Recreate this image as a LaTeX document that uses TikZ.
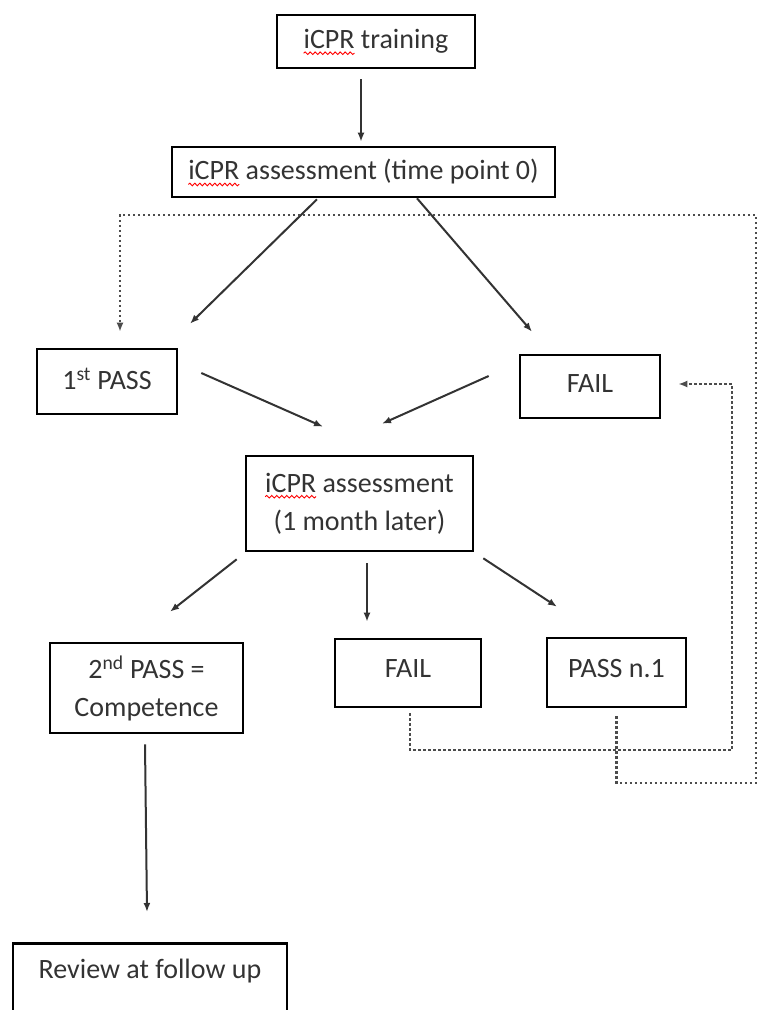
\documentclass[tikz,border=0pt]{standalone}
\usepackage{fontspec}
\setmainfont{Carlito}
\usepackage{tikz}
\usetikzlibrary{arrows.meta,calc,decorations.pathmorphing}

% red spell-check wave under a word
\newcommand\spell[1]{\tikz[baseline=(w.base)]{\node[draw=none, inner sep=0pt, outer sep=0pt, minimum width=0pt, minimum height=0pt] (w) {#1};
  \draw[overlay, red, line width=0.9pt, decorate, decoration={snake, amplitude=1.3pt, segment length=5pt}]
    ([yshift=-4.5pt]w.base west) -- ([yshift=-4.5pt]w.base east);}}

\begin{document}
\begin{tikzpicture}[x=1pt, y=-1pt, >={Latex[length=9pt,width=7pt]},
  box/.style={draw=black, line width=2.6pt, inner sep=0pt, align=center, text=black!80, font=\fontsize{28}{38}\selectfont},
  arr/.style={->, draw=black!80, line width=2pt},
  backline/.style={->, draw=black!70, line width=2.4pt, dash pattern=on 2.4pt off 2.6pt}]

\clip (0,0) rectangle (758,1010);

% Boxes
\node[box, minimum width=198pt, minimum height=53pt] (train) at (376,41.5) {\spell{iCPR} training};
\node[box, minimum width=383pt, minimum height=50pt] (assess0) at (363.5,172) {\spell{iCPR} assessment (time point 0)};
\node[box, minimum width=140pt, minimum height=65pt, text depth=6pt] (pass1) at (107,381.5) {1\textsuperscript{st} PASS};
\node[box, minimum width=140pt, minimum height=63pt, text depth=6pt] (fail0) at (590,386.5) {FAIL};
\node[box, minimum width=227pt, minimum height=95pt] (assess1) at (359.5,503.5) {\spell{iCPR} assessment\\(1 month later)};
\node[box, minimum width=193pt, minimum height=90pt] (pass2) at (146.5,688) {2\textsuperscript{nd} PASS =\\Competence};
\node[box, minimum width=146pt, minimum height=68pt, text depth=8pt] (fail1) at (408,673) {FAIL};
\node[box, minimum width=139pt, minimum height=69pt, text depth=8pt] (passn1) at (616.5,672.5) {PASS n.1};
\node[box, minimum width=274pt, anchor=north, inner ysep=16pt, text depth=60pt] (review) at (150,942) {Review at follow up};

% Arrows
\draw[arr] ($(train.south)+(-15,10)$) -- ($(assess0.north)+(-2.5,-4)$);
\draw[arr] ($(assess0.south)+(-46.5,1)$) -- ($(pass1.north)+(83,-24)$);
\draw[arr] ($(assess0.south)+(53.5,0)$) -- ($(fail0.north)+(-58,-22)$);
\draw[arr] ($(pass1.east)+(23,-8.5)$) -- ($(assess1.north)+(-36.5,-28)$);
\draw[arr] ($(fail0.west)+(-30,-10.5)$) -- ($(assess1.north)+(22.5,-31)$);
\draw[arr] ($(assess1.south west)+(-8,7)$) -- ($(pass2.north)+(23.5,-30)$);
\draw[arr] ($(assess1.south)+(7.5,11)$) -- ($(fail1.north)+(-41,-16)$);
\draw[arr] ($(assess1.south east)+(9,6)$) -- ($(passn1.north)+(-59.5,-30)$);
\draw[arr] ($(pass2.south)+(-1.5,10)$) -- ($(review.north)+(-3,-30)$);

% Dotted loops back
\coordinate (cornerR) at (756,783);
\coordinate (cornerT) at (756,215);
\coordinate (cornerB) at (732,750);
\draw[backline] ($(passn1.south)+(0,8)$) |- (cornerR) -- (cornerT) -| ($(pass1.north)+(13,-16)$);
\draw[backline] ($(fail1.south)+(2,5)$) |- (cornerB) |- ($(fail0.east)+(17,-2.5)$);

\end{tikzpicture}
\end{document}
